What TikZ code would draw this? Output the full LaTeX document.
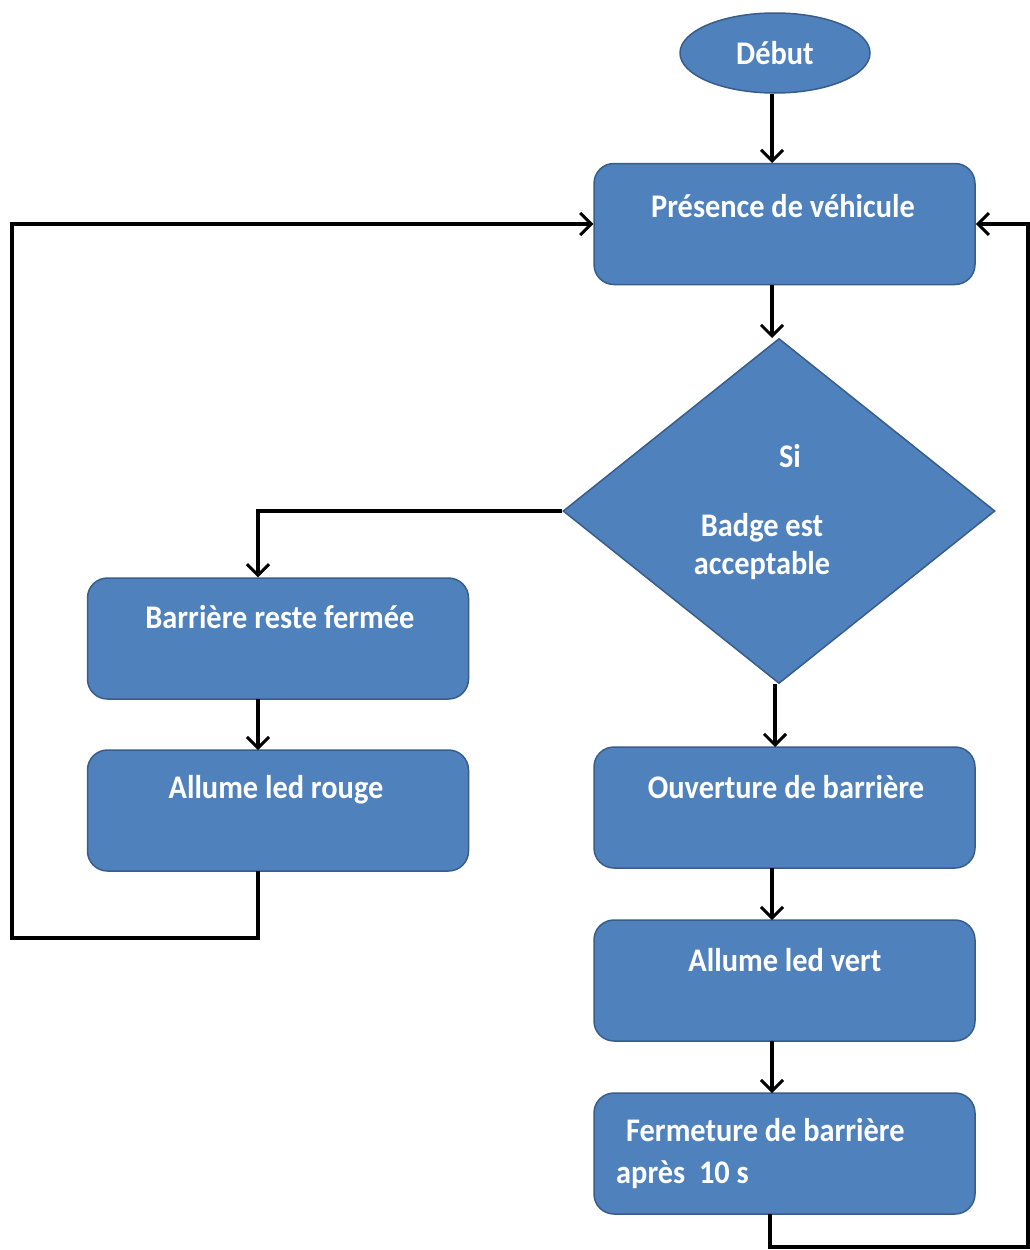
\documentclass[tikz,border=0pt]{standalone}
\usepackage{fontspec}
\newfontfamily\lbl[FakeStretch=0.92]{Carlito}
\usetikzlibrary{shapes.geometric,arrows.meta}
\definecolor{boxfill}{HTML}{4F81BD}
\definecolor{boxline}{HTML}{385D8A}
\tikzset{
  procbox/.style={draw=boxline, line width=1.5pt, fill=boxfill, rounded corners=20pt, minimum width=381pt, minimum height=121pt, inner sep=0pt},
  txt/.style={text=white, font=\lbl\bfseries\fontsize{33}{38}\selectfont, inner sep=0pt},
  conn/.style={line width=4pt, black},
  arr/.style={conn, -{Straight Barb[length=11pt,width=22pt,line width=3pt]}}
}
\begin{document}
\begin{tikzpicture}[x=1pt,y=-1pt]
\useasboundingbox (0,0) rectangle (1030,1250);
% start
\node[ellipse, draw=boxline, line width=1.5pt, fill=boxfill, minimum width=190pt, minimum height=80pt, inner sep=0pt] (debut) at (775,53) {};
\node[txt] (debut-t) at (775,53) {Début};
% boxes
\node[procbox] (pres) at (784.5,224) {};
\node[txt] (pres-t) at (783,206) {Présence de véhicule};
\node[diamond, draw=boxline, line width=1.5pt, fill=boxfill, minimum width=432pt, minimum height=345pt, inner sep=0pt] (dec) at (779,511) {};
\node[txt] (dec-si) at (790,456) {Si};
\node[txt, align=center] (dec-t) at (762,547) {Badge est\\acceptable};
\node[procbox] (ferme) at (278,638.5) {};
\node[txt] (ferme-t) at (280,617) {Barrière reste fermée};
\node[procbox] (rouge) at (278,810.5) {};
\node[txt] (rouge-t) at (276,790) {Allume led rouge};
\node[procbox] (ouv) at (784.5,807.5) {};
\node[txt] (ouv-t) at (786,787) {Ouverture de barrière};
\node[procbox] (vert) at (784.5,980.5) {};
\node[txt] (vert-t) at (785,960) {Allume led vert};
\node[procbox] (fin) at (784.5,1153.5) {};
\node[txt, anchor=west] (fin-t1) at (626,1130) {Fermeture de barrière};
\node[txt, anchor=west] (fin-t2) at (616,1175) {après\ \ 10 s};
% connectors
\draw[arr] (debut.south -| 772,0) -- (772,163);
\draw[arr] (772,285) -- (772,338);
\draw[arr] (dec.west) -| (ferme.north -| 258,0);
\draw[arr] (258,699) -- (258,750);
\coordinate (lb) at (12,938);
\coordinate (lt) at (12,224);
\draw[arr] (258,871) |- (lb) -- (lt) -- (pres.west |- lt);
\draw[arr] (dec.south -| 775,0) -- (775,747);
\draw[arr] (772,868) -- (772,920);
\draw[arr] (772,1041) -- (772,1093);
\coordinate (rb) at (1028,1247);
\coordinate (rt) at (1028,224);
\draw[arr] (770,1214) |- (rb) -- (rt) -- (pres.east |- rt);
\end{tikzpicture}
\end{document}
